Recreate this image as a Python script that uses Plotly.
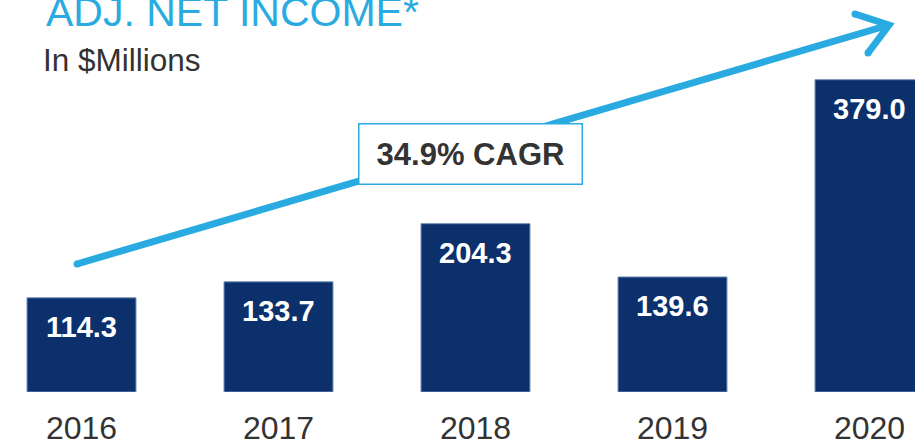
import plotly.graph_objects as go

# values
years = ["2016", "2017", "2018", "2019", "2020"]
adj_net_income = [114.3, 133.7, 204.3, 139.6, 379.0]
value_labels = ["114.3", "133.7", "204.3", "139.6", "379.0"]
cagr_label = "34.9% CAGR"

W, H = 915, 445
PLOT_H = 392  # plot area height in px (bottom margin below)
NAVY = "#0b306b"
LIGHT_BLUE = "#29abe2"
GREY = "#333333"
FONT = "Arial, Liberation Sans, sans-serif"


def px(x, y):
    # pixel position on the page -> paper coords
    return x / W, (PLOT_H - y) / PLOT_H


xs = list(range(len(years)))

fig = go.Figure()
fig.add_trace(go.Bar(
    x=xs, y=adj_net_income, width=0.553,
    marker=dict(color=NAVY, line=dict(color="#6f8db8", width=1)),
    hoverinfo="skip",
))

annotations = []
for x, v, lab in zip(xs, adj_net_income, value_labels):
    annotations.append(dict(
        x=x, y=v, xref="x", yref="y", text="<b>" + lab + "</b>",
        showarrow=False, yanchor="middle", yshift=-29,
        font=dict(family=FONT, size=29, color="white"),
    ))

# title + subtitle
tx, ty = px(44, 12)
annotations.append(dict(x=tx, y=ty, xref="paper", yref="paper", text="ADJ. NET INCOME*",
                        showarrow=False, xanchor="left", yanchor="middle",
                        font=dict(family=FONT, size=41, color=LIGHT_BLUE)))
sx, sy = px(41, 60)
annotations.append(dict(x=sx, y=sy, xref="paper", yref="paper", text="In $Millions",
                        showarrow=False, xanchor="left", yanchor="middle",
                        font=dict(family=FONT, size=31.5, color=GREY)))

# CAGR box
cx, cy = px(470, 153.5)
annotations.append(dict(x=cx, y=cy, xref="paper", yref="paper", text="<b>" + cagr_label + "</b>",
                        showarrow=False, xanchor="center", yanchor="middle",
                        width=222, height=59, borderpad=0, borderwidth=1.5,
                        bordercolor=LIGHT_BLUE, bgcolor="white",
                        font=dict(family=FONT, size=31, color=GREY)))

# growth arrow (open chevron head)
x0, y0 = px(77, 264)
x1, y1 = px(889, 25)
a1 = px(855, 14)
a2 = px(868, 53)
shapes = [
    dict(type="line", xref="paper", yref="paper", x0=x0, y0=y0, x1=x1, y1=y1,
         line=dict(color=LIGHT_BLUE, width=7), layer="below"),
    dict(type="path", xref="paper", yref="paper",
         path="M %f,%f L %f,%f L %f,%f" % (a1[0], a1[1], x1, y1, a2[0], a2[1]),
         line=dict(color=LIGHT_BLUE, width=7), layer="below"),
]
for (cxp, cyp) in [(x0, y0), a1, a2]:
    shapes.append(dict(type="circle", xref="paper", yref="paper", xsizemode="pixel", ysizemode="pixel",
                       xanchor=cxp, yanchor=cyp, x0=-3.5, x1=3.5, y0=-3.5, y1=3.5,
                       fillcolor=LIGHT_BLUE, line=dict(width=0), layer="below"))

x_left = -81.5 / 197
x_right = (W - 81.5) / 197

fig.update_layout(
    width=W, height=H,
    margin=dict(l=0, r=0, t=0, b=H - PLOT_H, autoexpand=False),
    plot_bgcolor="white", paper_bgcolor="white",
    showlegend=False,
    annotations=annotations,
    shapes=shapes,
    xaxis=dict(range=[x_left, x_right], tickvals=xs, ticktext=years,
               showgrid=False, zeroline=False, showline=False, ticks="",
               automargin=False, ticklabelstandoff=14,
               tickfont=dict(family=FONT, size=32, color=GREY)),
    yaxis=dict(range=[0, PLOT_H / 0.824], visible=False, showgrid=False,
               zeroline=False, automargin=False),
)

# page body has a default 8px margin; drop it so the figure sits at the corner
fig.write_html("out.html", config={"displayModeBar": False},
               post_script="document.body.style.margin='0';document.body.style.overflow='hidden';")
